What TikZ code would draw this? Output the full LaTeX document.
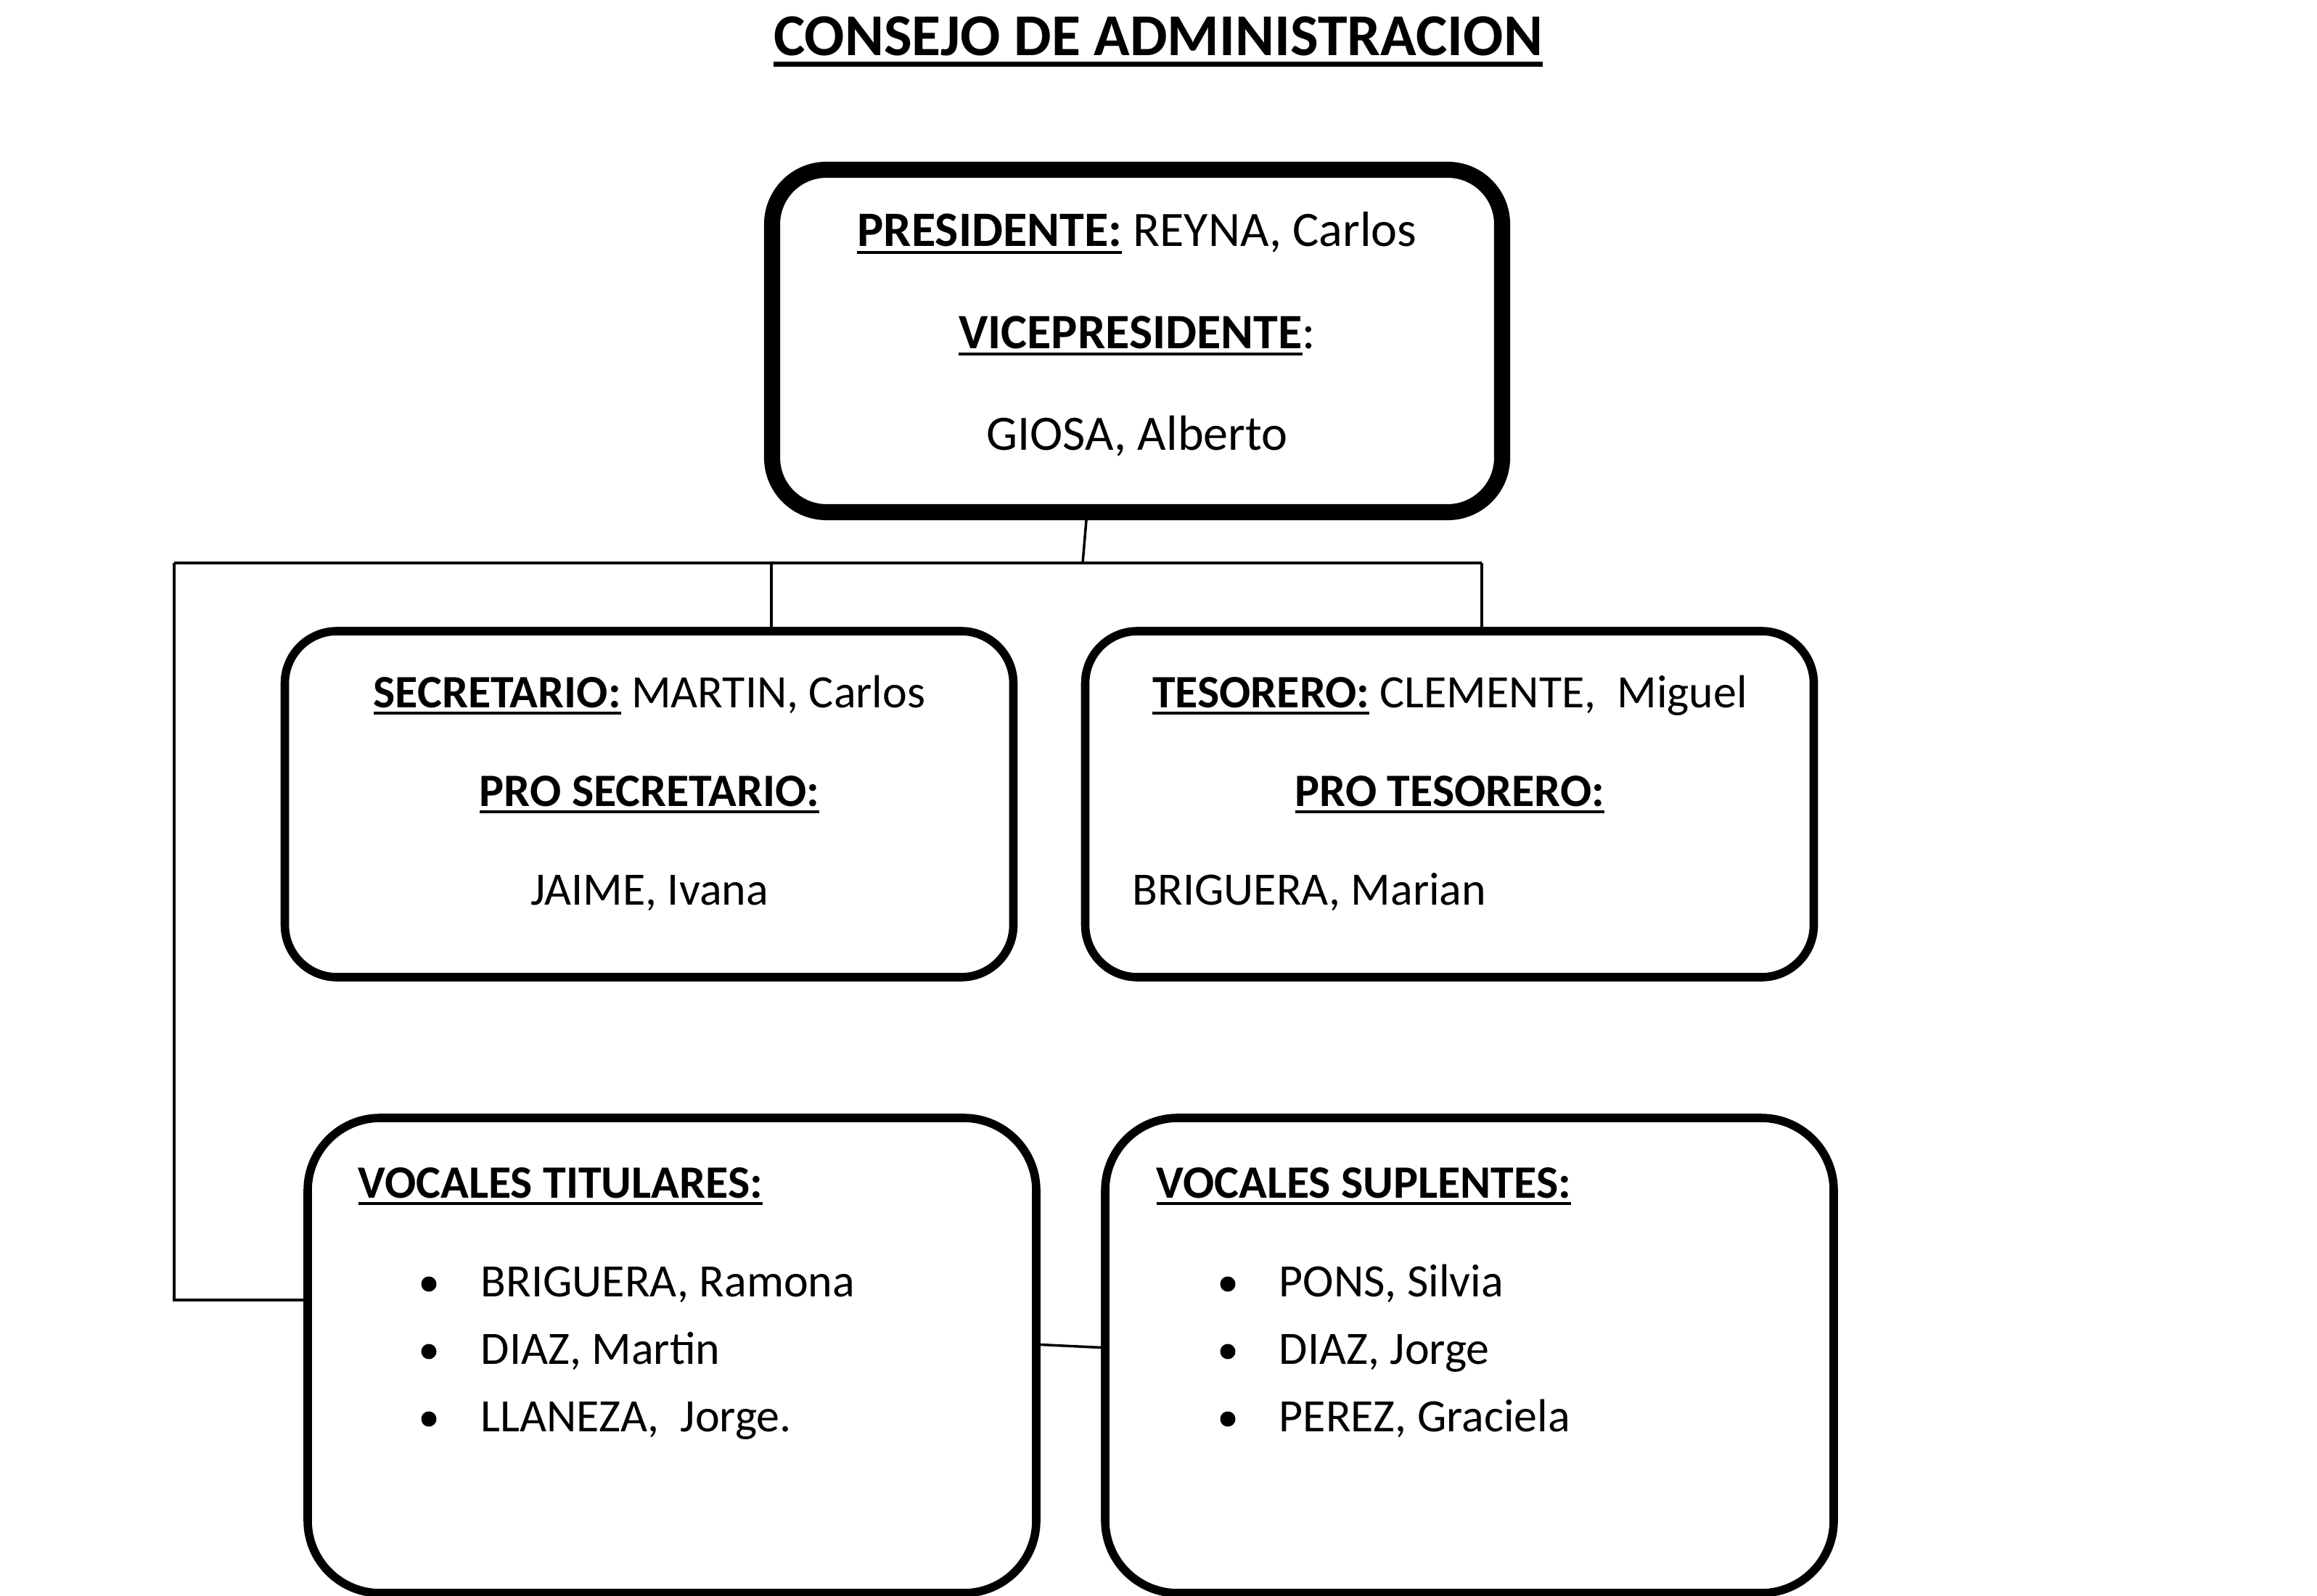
\documentclass[tikz,border=0pt]{standalone}
\usepackage{fontspec}
\setmainfont{Carlito}
\newcommand{\ulgap}{1.6pt}
\newcommand{\ulbar}[2][1.3pt]{\setbox0=\hbox{#2}\rlap{\vrule height -\ulgap\space depth \dimexpr\ulgap+#1\relax width \wd0}\box0}
\begin{document}
\begin{tikzpicture}[
        box/.style={draw, line width=3.3pt, rounded corners=0.72cm, inner sep=0pt,
            minimum width=10.04cm, minimum height=4.77cm},
        bigbox/.style={box, line width=6.3pt, rounded corners=0.75cm,
            minimum width=10.06cm, minimum height=4.72cm},
        lowbox/.style={box, rounded corners=1cm, minimum height=6.55cm},
        txt/.style={anchor=base, inner sep=0pt, font=\fontsize{18.2}{21}\selectfont},
        bigtxt/.style={txt, font=\fontsize{19.4}{23}\selectfont},
        dot/.style={circle, fill, inner sep=0pt, minimum size=0.21cm},
        link/.style={line width=1pt}
    ]
        \useasboundingbox (0,0) rectangle (31.93,-22);
        % title
            \node[anchor=base, inner sep=0pt, font=\fontsize{23.3}{27}\selectfont\bfseries] (title)
                at (15.96,-0.77) {\renewcommand{\ulgap}{2.3pt}\ulbar[2pt]{CONSEJO DE ADMINISTRACION}};
        % boxes
            \node[bigbox] (pres) at (15.67,-4.70) {};
            \node[box] (sec) at (8.945,-11.085) {};
            \node[box] (tes) at (19.975,-11.085) {};
            \node[lowbox] (vt) at (9.26,-18.685) {};
            \node[lowbox] (vs) at (20.25,-18.685) {};
        % connectors
            \coordinate (busL) at (2.40,-7.76);
            \coordinate (busM) at (10.63,-7.76);
            \coordinate (busR) at (20.42,-7.76);
            \coordinate (busT) at (14.92,-7.76);
            \coordinate (elbow) at (2.40,-17.92);
            \draw[link] ([xshift=-0.70cm]pres.south) -- (busT);
            \draw[link] (busL) -- (busR);
            \draw[link] (busM) -- (busM |- sec.north);
            \draw[link] (busR) -- (busR |- tes.north);
            \draw[link] (busL) -- (elbow) -- (elbow -| vt.west);
            \draw[link] ([yshift=0.15cm]vt.east) -- ([yshift=0.11cm]vs.west);
        % upper texts
            \node[bigtxt] (p1) at (15.67,-3.40) {\textbf{\ulbar{PRESIDENTE:}} REYNA, Carlos};
            \node[bigtxt] (p2) at (15.67,-4.80) {\textbf{\ulbar{VICEPRESIDENTE}}:};
            \node[bigtxt] (p3) at (15.67,-6.20) {GIOSA, Alberto};
            \node[txt] (s1) at (8.95,-9.75) {\textbf{\ulbar{SECRETARIO:}} MARTIN, Carlos};
            \node[txt] (s2) at (8.95,-11.11) {\textbf{\ulbar{PRO SECRETARIO:}}};
            \node[txt] (s3) at (8.95,-12.47) {JAIME, Ivana};
            \node[txt] (t1) at (19.98,-9.75) {\textbf{\ulbar{TESORERO:}} CLEMENTE,\ \ Miguel};
            \node[txt] (t2) at (19.98,-11.11) {\textbf{\ulbar{PRO TESORERO:}}};
            \node[txt, anchor=base west] (t3) at (15.60,-12.47) {BRIGUERA, Marian};
        % vocales
            \node[txt, anchor=base west] (vth) at (4.93,-16.51) {\textbf{\ulbar{VOCALES TITULARES:}}};
            \node[txt, anchor=base west] (vsh) at (15.93,-16.51) {\textbf{\ulbar{VOCALES SUPLENTES:}}};
            \foreach \y/\t in {0/{BRIGUERA, Ramona},1/{DIAZ, Martin},2/{LLANEZA,\ \ Jorge.}}{
                \node[dot] (vtb\y) at (5.91,-17.70-0.93*\y) {};
                \node[txt, anchor=base west] (vti\y) at (6.62,-17.87-0.93*\y) {\t};
            }
            \foreach \y/\t in {0/{PONS, Silvia},1/{DIAZ, Jorge},2/{PEREZ, Graciela}}{
                \node[dot] (vsb\y) at (16.92,-17.70-0.93*\y) {};
                \node[txt, anchor=base west] (vsi\y) at (17.62,-17.87-0.93*\y) {\t};
            }
\end{tikzpicture}
\end{document}
